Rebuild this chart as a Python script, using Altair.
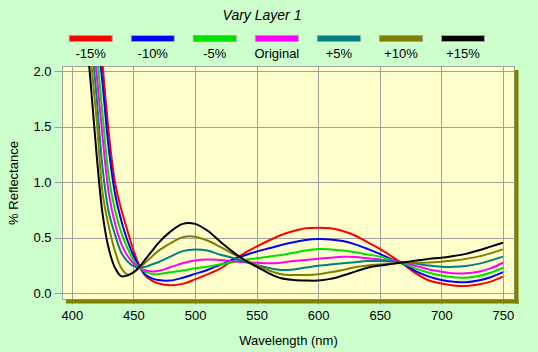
import altair as alt
import pandas as pd

wavelength = [410, 415, 420, 425, 430, 435, 440, 445, 450, 455, 460, 465, 470,
              480, 490, 500, 510, 520, 530, 540, 550, 560, 570, 580, 590, 600,
              610, 620, 630, 640, 650, 660, 670, 680, 690, 700, 710, 720, 730,
              740, 750]

series_names = ["-15%", "-10%", "-5%", "Original", "+5%", "+10%", "+15%"]
series_colors = ["#FF0000", "#0000FF", "#00E000", "#FF00FF", "#008080", "#808000", "#000000"]

minus15 = [3.85, 3.25, 2.65, 2.05, 1.44, 1.0, 0.76, 0.57, 0.39, 0.245, 0.155, 0.115, 0.09,
           0.072, 0.085, 0.125, 0.17, 0.22, 0.29, 0.36, 0.42, 0.475, 0.525, 0.56, 0.585, 0.59,
           0.585, 0.56, 0.52, 0.46, 0.40, 0.33, 0.255, 0.175, 0.115, 0.088, 0.07, 0.066, 0.08,
           0.105, 0.15]
minus10 = [3.6, 3.0, 2.43, 1.88, 1.3, 0.9, 0.66, 0.48, 0.34, 0.235, 0.165, 0.135, 0.12,
           0.115, 0.14, 0.175, 0.21, 0.255, 0.30, 0.34, 0.375, 0.405, 0.435, 0.46, 0.48, 0.488,
           0.485, 0.47, 0.44, 0.40, 0.355, 0.305, 0.26, 0.195, 0.15, 0.12, 0.105, 0.10, 0.115,
           0.145, 0.19]
minus5 = [3.4, 2.8, 2.2, 1.6, 1.05, 0.75, 0.55, 0.41, 0.30, 0.23, 0.19, 0.175, 0.173,
          0.19, 0.205, 0.225, 0.24, 0.26, 0.28, 0.30, 0.315, 0.33, 0.345, 0.365, 0.385, 0.398,
          0.395, 0.385, 0.37, 0.35, 0.33, 0.30, 0.265, 0.22, 0.185, 0.16, 0.145, 0.14, 0.155,
          0.185, 0.23]
original = [3.2, 2.6, 1.99, 1.4, 0.9, 0.63, 0.45, 0.34, 0.27, 0.23, 0.205, 0.197, 0.2,
            0.235, 0.27, 0.295, 0.305, 0.30, 0.29, 0.28, 0.275, 0.27, 0.275, 0.29, 0.30, 0.31,
            0.32, 0.328, 0.327, 0.315, 0.305, 0.29, 0.275, 0.245, 0.215, 0.195, 0.18, 0.18, 0.195,
            0.225, 0.275]
plus5 = [3.0, 2.37, 1.78, 1.12, 0.73, 0.53, 0.37, 0.29, 0.245, 0.23, 0.24, 0.26, 0.28,
         0.33, 0.38, 0.395, 0.385, 0.35, 0.32, 0.285, 0.255, 0.228, 0.21, 0.215, 0.232, 0.248,
         0.26, 0.27, 0.28, 0.29, 0.29, 0.287, 0.28, 0.265, 0.25, 0.24, 0.238, 0.245, 0.265,
         0.295, 0.33]
plus10 = [2.8, 2.15, 1.58, 0.9, 0.6, 0.38, 0.23, 0.17, 0.185, 0.23, 0.28, 0.33, 0.38,
          0.45, 0.505, 0.51, 0.475, 0.42, 0.36, 0.305, 0.255, 0.205, 0.172, 0.165, 0.165, 0.172,
          0.19, 0.21, 0.235, 0.25, 0.26, 0.268, 0.275, 0.275, 0.278, 0.285, 0.295, 0.31, 0.33,
          0.36, 0.395]
plus15 = [2.53, 1.93, 1.26, 0.71, 0.40, 0.23, 0.155, 0.16, 0.19, 0.24, 0.31, 0.38, 0.45,
          0.555, 0.625, 0.625, 0.565, 0.47, 0.38, 0.30, 0.24, 0.18, 0.135, 0.12, 0.115, 0.115,
          0.13, 0.16, 0.195, 0.23, 0.25, 0.265, 0.28, 0.295, 0.31, 0.32, 0.335, 0.355, 0.385,
          0.42, 0.455]

x_ticks = [400, 450, 500, 550, 600, 650, 700, 750]
y_ticks = [0.0, 0.5, 1.0, 1.5, 2.0]
chart_title = "Vary Layer 1"

all_series = [minus15, minus10, minus5, original, plus5, plus10, plus15]
rows = []
for k, (name, vals) in enumerate(zip(series_names, all_series)):
    for w, v in zip(wavelength, vals):
        rows.append({"wavelength": w, "reflectance": v, "series": name, "k": k})
df = pd.DataFrame(rows)

W, H = 452, 233
FONT = "Liberation Sans"
GRID = "#A0A0A0"
SHADOW = "#808000"

color_scale = alt.Scale(domain=series_names, range=series_colors)
xscale = alt.Scale(domain=[392, 759], nice=False, zero=False)
yscale = alt.Scale(domain=[-0.051, 2.045], nice=False, zero=False)

lines = alt.Chart(df).mark_line(strokeWidth=2, clip=True, interpolate="catmull-rom").encode(
    x=alt.X("wavelength:Q", scale=xscale,
            axis=alt.Axis(values=x_ticks, title="Wavelength (nm)", tickSize=5,
                          labelPadding=5, titleY=41, titleBaseline="middle")),
    y=alt.Y("reflectance:Q", scale=yscale,
            axis=alt.Axis(values=y_ticks, format=".1f", title="% Reflectance", tickSize=8,
                          labelPadding=3, titleX=-49, titleY=H / 2, titleAlign="center",
                          titleBaseline="middle")),
    color=alt.Color("series:N", scale=color_scale, legend=None),
    order=alt.Order("k:Q"),
)

one = pd.DataFrame({"k": [0]})
shadow_right = alt.Chart(one).mark_rect(color=SHADOW).encode(
    x=alt.value(W + 0.5), x2=alt.value(W + 4.5), y=alt.value(4), y2=alt.value(H + 4.5))
shadow_bottom = alt.Chart(one).mark_rect(color=SHADOW).encode(
    x=alt.value(4), x2=alt.value(W + 4.5), y=alt.value(H + 0.5), y2=alt.value(H + 4.5))

leg_df = pd.DataFrame({"series": series_names})
leg_x = alt.X("series:N", sort=series_names,
              scale=alt.Scale(type="point", domain=series_names, range=[28.7, 401], padding=0),
              axis=None)
swatches = alt.Chart(leg_df).mark_tick(orient="horizontal", size=43, thickness=6,
                                       stroke="#A0A0A0", strokeWidth=1, opacity=1).encode(
    x=leg_x, y=alt.value(-27.5),
    color=alt.Color("series:N", scale=color_scale, legend=None))
leg_labels = alt.Chart(leg_df).mark_text(font=FONT, fontSize=13, color="#000000",
                                         baseline="middle", align="center").encode(
    x=leg_x, y=alt.value(-12.5), text="series:N")

title_df = pd.DataFrame({"t": [chart_title]})
title = alt.Chart(title_df).mark_text(font=FONT, fontSize=14, fontStyle="italic",
                                      color="#000000", baseline="middle", align="center").encode(
    x=alt.value(200), y=alt.value(-50), text="t:N")

chart = alt.layer(shadow_right, shadow_bottom, lines, swatches, leg_labels, title).resolve_scale(
    x="independent"
).properties(
    width=W, height=H,
    padding={"left": 62, "top": 66, "right": 24, "bottom": 53},
    autosize=alt.AutoSizeParams(type="none"),
    background="#CCFFCC",
).configure_view(
    fill="#FFFFCC", stroke=GRID, strokeWidth=1
).configure_axis(
    grid=True, gridColor=GRID, gridWidth=1, gridOpacity=1,
    domain=False, tickColor=GRID, tickWidth=1,
    labelFont=FONT, labelFontSize=13, labelColor="#000000",
    titleFont=FONT, titleFontSize=13, titleColor="#000000", titleFontWeight="normal",
)

chart.save("out.html", embed_options={"renderer": "svg", "actions": False})
